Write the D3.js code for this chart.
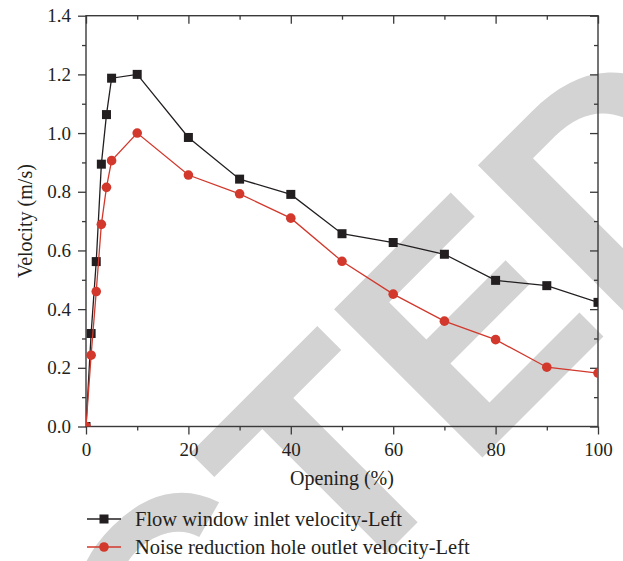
<!DOCTYPE html>
<head>
  <meta charset="utf-8">
  <style>
    body { margin: 0; background: #fff; }
    svg text { font-family: "Liberation Serif", "DejaVu Serif", serif; fill: #231f20; }
    svg .axis line { stroke: #3a3a3a; stroke-width: 1.3px; }
    svg .axis path { display: none; }
    svg .axis text { font-size: 19px; }
    svg .frame { fill: none; stroke: #3a3a3a; stroke-width: 1.4px; }
    svg .watermark { font-family: "Liberation Sans", Arial, sans-serif; font-weight: bold; fill: #d3d3d3; }
  </style>
</head>

<body>
<script src="https://d3js.org/d3.v7.min.js"></script>

<script>
  // data
  var opening = [0, 1, 2, 3, 4, 5, 10, 20, 30, 40, 50, 60, 70, 80, 90, 100];
  var inletVelocity  = [0, 0.317, 0.562, 0.894, 1.063, 1.187, 1.200, 0.985, 0.843, 0.791, 0.657, 0.627, 0.587, 0.498, 0.480, 0.423];
  var outletVelocity = [0, 0.243, 0.460, 0.689, 0.815, 0.906, 1.000, 0.857, 0.793, 0.710, 0.563, 0.451, 0.359, 0.296, 0.202, 0.182];
  var seriesNames = ["Flow window inlet velocity-Left", "Noise reduction hole outlet velocity-Left"];
  var xTicks = [0, 20, 40, 60, 80, 100];
  var xMinorTicks = [10, 30, 50, 70, 90];
  var yTicks = [0, 0.2, 0.4, 0.6, 0.8, 1.0, 1.2, 1.4];
  var yMinorTicks = [0.1, 0.3, 0.5, 0.7, 0.9, 1.1, 1.3];

  var W = 623, H = 561;
  var plotLeft = 86, plotRight = 598, plotTop = 15.7, plotBottom = 426.5;
  var black = "#231f20", red = "#d2382c";

  var svg = d3.select("body")
    .append("svg")
      .attr("width", W)
      .attr("height", H);

  // RETRACTED watermark, sits behind the chart
  var wm = svg.append("g")
      .attr("transform", "translate(468,472) rotate(-45)");
  wm.append("text").classed("watermark", true)
      .attr("font-size", 305).attr("text-anchor", "end").text("RETRACT");
  wm.append("text").classed("watermark", true)
      .attr("font-size", 305).attr("text-anchor", "start").text("ED");

  var xScale = d3.scaleLinear().domain([0, 100]).range([plotLeft, plotRight]);
  var yScale = d3.scaleLinear().domain([0, 1.4]).range([plotBottom, plotTop]);

  // bottom axis (outward ticks) + minor
  svg.append("g").classed("axis", true)
      .attr("transform", "translate(0," + plotBottom + ")")
      .call(d3.axisBottom(xScale).tickValues(xTicks).tickSize(8).tickPadding(8)
        .tickFormat(d3.format("d")));
  svg.append("g").classed("axis", true)
      .attr("transform", "translate(0," + plotBottom + ")")
      .call(d3.axisBottom(xScale).tickValues(xMinorTicks).tickSize(4).tickFormat(""));

  // top axis (inward ticks)
  svg.append("g").classed("axis", true)
      .attr("transform", "translate(0," + plotTop + ")")
      .call(d3.axisTop(xScale).tickValues(xTicks).tickSize(-8).tickFormat(""));
  svg.append("g").classed("axis", true)
      .attr("transform", "translate(0," + plotTop + ")")
      .call(d3.axisTop(xScale).tickValues(xMinorTicks).tickSize(-4).tickFormat(""));

  // left axis (outward ticks) + minor
  svg.append("g").classed("axis", true)
      .attr("transform", "translate(" + plotLeft + ",0)")
      .call(d3.axisLeft(yScale).tickValues(yTicks).tickSize(8).tickPadding(7)
        .tickFormat(d3.format(".1f")));
  svg.append("g").classed("axis", true)
      .attr("transform", "translate(" + plotLeft + ",0)")
      .call(d3.axisLeft(yScale).tickValues(yMinorTicks).tickSize(4).tickFormat(""));

  // right axis (inward ticks)
  svg.append("g").classed("axis", true)
      .attr("transform", "translate(" + plotRight + ",0)")
      .call(d3.axisRight(yScale).tickValues(yTicks).tickSize(-8).tickFormat(""));
  svg.append("g").classed("axis", true)
      .attr("transform", "translate(" + plotRight + ",0)")
      .call(d3.axisRight(yScale).tickValues(yMinorTicks).tickSize(-4).tickFormat(""));

  svg.append("rect").classed("frame", true)
      .attr("x", plotLeft).attr("y", plotTop)
      .attr("width", plotRight - plotLeft).attr("height", plotBottom - plotTop);

  // axis titles
  svg.append("text")
      .attr("x", (plotLeft + plotRight) / 2)
      .attr("y", 485)
      .attr("text-anchor", "middle")
      .style("font-size", "20px")
      .text("Opening (%)");
  svg.append("text")
      .attr("transform", "translate(32," + ((plotTop + plotBottom) / 2) + ") rotate(-90)")
      .attr("text-anchor", "middle")
      .style("font-size", "20px")
      .text("Velocity (m/s)");

  // series
  svg.append("clipPath").attr("id", "plotclip")
    .append("rect")
      .attr("x", plotLeft).attr("y", plotTop)
      .attr("width", plotRight - plotLeft).attr("height", plotBottom - plotTop);

  var plot = svg.append("g").attr("clip-path", "url(#plotclip)");

  var line = d3.line()
    .x(function (d) { return xScale(d[0]); })
    .y(function (d) { return yScale(d[1]); });

  var inlet = opening.map(function (o, i) { return [o, inletVelocity[i]]; });
  var outlet = opening.map(function (o, i) { return [o, outletVelocity[i]]; });

  plot.append("path")
      .attr("d", line(inlet))
      .style("fill", "none")
      .style("stroke", black)
      .style("stroke-width", "1.3px");
  plot.selectAll("rect.sq")
      .data(inlet)
    .enter().append("rect")
      .classed("sq", true)
      .attr("x", function (d) { return xScale(d[0]) - 4.5; })
      .attr("y", function (d) { return yScale(d[1]) - 4.5; })
      .attr("width", 9)
      .attr("height", 9)
      .style("fill", black);

  plot.append("path")
      .attr("d", line(outlet))
      .style("fill", "none")
      .style("stroke", red)
      .style("stroke-width", "1.3px");
  plot.selectAll("circle.dot")
      .data(outlet)
    .enter().append("circle")
      .classed("dot", true)
      .attr("cx", function (d) { return xScale(d[0]); })
      .attr("cy", function (d) { return yScale(d[1]); })
      .attr("r", 4.8)
      .style("fill", red);

  // legend
  var legendY = [519, 547];
  var legendColors = [black, red];
  seriesNames.forEach(function (name, i) {
    var g = svg.append("g").attr("transform", "translate(0," + legendY[i] + ")");
    g.append("line")
        .attr("x1", 87).attr("x2", 121)
        .attr("y1", 0).attr("y2", 0)
        .style("stroke", legendColors[i])
        .style("stroke-width", "1.3px");
    if (i === 0) {
      g.append("rect")
          .attr("x", 104 - 4.5).attr("y", -4.5)
          .attr("width", 9).attr("height", 9)
          .style("fill", legendColors[i]);
    } else {
      g.append("circle")
          .attr("cx", 104).attr("cy", 0).attr("r", 4.8)
          .style("fill", legendColors[i]);
    }
    g.append("text")
        .attr("x", 135)
        .attr("dy", "0.35em")
        .style("font-size", "20.5px")
        .text(name);
  });
</script>
</body>
</html>
